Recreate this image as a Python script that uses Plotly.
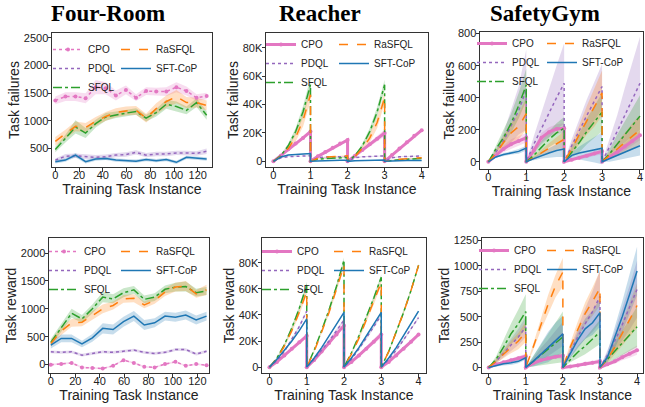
import plotly.graph_objects as go

# ---------------- data ----------------
series_names = ["CPO", "PDQL", "SFQL", "RaSFQL", "SFT-CoP"]
series_colors = ["#e377c2", "#9467bd", "#2ca02c", "#ff7f0e", "#1f77b4"]
series_dash = ["dot", "dot", "dashdot", "dash", "solid"]

panel_titles = ["Four-Room", "Reacher", "SafetyGym"]

# Four-Room: x = training task instance
fr_x = [0, 8.5, 17, 25.5, 34, 42.5, 51, 59.5, 68, 76.5, 85, 93.5, 102, 110.5, 119, 127.5]

fr_fail_cpo = [1370, 1440, 1440, 1410, 1610, 1590, 1460, 1560, 1420, 1540, 1530, 1530, 1610, 1540, 1420, 1450]
fr_fail_cpo_sd = [70, 80, 80, 90, 130, 110, 90, 80, 60, 70, 70, 80, 90, 80, 60, 60]
fr_fail_pdql = [290, 360, 370, 350, 340, 350, 380, 390, 430, 380, 400, 400, 420, 420, 410, 450]
fr_fail_pdql_sd = [30, 40, 40, 40, 40, 40, 40, 40, 40, 40, 40, 40, 40, 40, 40, 50]
fr_fail_sfql = [480, 680, 890, 780, 950, 1070, 1110, 1140, 1170, 1050, 1150, 1300, 1260, 1190, 1330, 1100]
fr_fail_sfql_sd = [50, 70, 120, 90, 70, 70, 60, 60, 60, 60, 70, 80, 90, 70, 80, 80]
fr_fail_rasfql = [630, 760, 900, 880, 990, 1080, 1150, 1180, 1190, 1050, 1220, 1350, 1440, 1330, 1330, 1280]
fr_fail_rasfql_sd = [80, 80, 90, 80, 80, 80, 80, 80, 80, 80, 100, 110, 120, 100, 90, 90]
fr_fail_sftcop = [260, 290, 380, 260, 310, 320, 290, 280, 270, 300, 280, 300, 250, 340, 330, 310]
fr_fail_sftcop_sd = [30, 30, 40, 30, 30, 30, 30, 30, 30, 30, 30, 30, 30, 30, 30, 30]

fr_rew_cpo = [0, 10, 30, -50, -60, -70, -20, 80, 30, -40, -50, 10, 50, -20, 10, -10]
fr_rew_cpo_sd = [15, 15, 15, 15, 15, 15, 15, 15, 15, 15, 15, 15, 15, 15, 15, 15]
fr_rew_pdql = [230, 220, 230, 170, 200, 230, 220, 240, 260, 220, 200, 220, 270, 270, 190, 240]
fr_rew_pdql_sd = [25, 25, 25, 25, 25, 25, 25, 25, 25, 25, 25, 25, 25, 25, 25, 25]
fr_rew_sfql = [400, 650, 920, 820, 1000, 1210, 1180, 1290, 1340, 1170, 1210, 1350, 1390, 1400, 1290, 1320]
fr_rew_sfql_sd = [60, 70, 80, 70, 80, 90, 80, 80, 70, 70, 70, 70, 80, 90, 70, 70]
fr_rew_rasfql = [380, 600, 750, 760, 880, 1000, 1060, 1180, 1190, 1070, 1150, 1300, 1390, 1410, 1270, 1340]
fr_rew_rasfql_sd = [60, 70, 70, 70, 80, 80, 70, 70, 70, 60, 60, 70, 80, 90, 70, 90]
fr_rew_sftcop = [350, 470, 470, 370, 480, 650, 630, 770, 870, 710, 750, 870, 850, 890, 800, 870]
fr_rew_sftcop_sd = [60, 70, 70, 60, 70, 90, 90, 90, 90, 90, 80, 80, 80, 80, 80, 80]

# Reacher / SafetyGym: 4 task segments, each sampled at these local positions
seg_t = [0.0, 0.2, 0.4, 0.6, 0.8, 1.0]
seg_starts = [0, 1, 2, 3]

# Reacher failures (thousands)
re_fail_cpo = [0, 4, 8.5, 12.5, 16.5, 21,  0, 3.5, 6.5, 9.5, 12.5, 15,  0, 4, 8, 12, 16, 20,  0, 4.5, 9, 13.5, 18, 22]
re_fail_cpo_sd = [0, .5, .8, 1, 1.2, 1.5,  0, .5, .6, .8, .8, 1,  0, .5, 1, 1.5, 2, 2.5,  0, .5, .5, .8, 1, 1]
re_fail_pdql = [0, 2.5, 3.3, 3.6, 3.8, 4.0,  0, 2.5, 3.0, 3.2, 3.3, 3.4,  0, 2.5, 3.2, 3.5, 3.6, 3.8,  0, 2.5, 3.2, 3.5, 3.7, 3.8]
re_fail_pdql_sd = [0, .3, .3, .3, .3, .3,  0, .3, .3, .3, .3, .3,  0, .3, .3, .3, .3, .3,  0, .3, .3, .3, .3, .3]
re_fail_sfql = [0, 4, 11, 21, 35, 54,  0, 1.5, 2.0, 2.3, 2.5, 2.7,  0, 4, 11, 21, 35, 54,  0, 0.8, 1.2, 1.5, 1.8, 2.0]
re_fail_sfql_sd = [0, .5, 1.5, 2.5, 4, 5,  0, .2, .3, .3, .3, .3,  0, .5, 1.5, 2.5, 3.5, 3.5,  0, .2, .2, .3, .3, .3]
re_fail_rasfql = [0, 3.5, 9, 17, 29, 47,  0, 2.2, 3.0, 3.4, 3.7, 3.9,  0, 3.5, 9, 16.5, 27.5, 45,  0, 1.0, 1.5, 1.9, 2.2, 2.5]
re_fail_rasfql_sd = [0, .5, 1.5, 3, 4.5, 5,  0, .3, .3, .3, .3, .3,  0, .5, 1.5, 3, 4, 4,  0, .2, .2, .3, .3, .3]
re_fail_sftcop = [0, 3.0, 4.5, 5.0, 5.2, 5.5,  0, 0.3, 0.5, 0.6, 0.7, 0.8,  0, 0.4, 0.6, 0.7, 0.8, 0.9,  0, 0.3, 0.4, 0.5, 0.5, 0.5]
re_fail_sftcop_sd = [0, .3, .3, .3, .3, .3,  0, .2, .2, .2, .2, .2,  0, .2, .2, .2, .2, .2,  0, .2, .2, .2, .2, .2]

# Reacher reward (thousands)
re_rew_cpo = [0, 4, 9, 14, 19, 24,  0, 5.5, 12, 18.5, 25, 32,  0, 4, 9, 14, 19.5, 25,  0, 4, 9, 14, 19.5, 25]
re_rew_cpo_sd = [0, .3, .5, .8, 1, 1.2,  0, .3, .5, .8, 1, 1.2,  0, .5, 1, 1.5, 2, 2.5,  0, .3, .5, .8, 1, 1.2]
re_rew_pdql = [0, 5, 12, 21, 31, 43,  0, 6, 13, 20, 28, 36,  0, 6, 14, 22, 31, 40,  0, 6, 13, 21, 29, 38]
re_rew_pdql_sd = [0, .5, .8, 1, 1, 1,  0, .5, .8, 1, 1, 1,  0, .5, .8, 1, 1, 1,  0, .5, .8, 1, 1, 1]
re_rew_sfql = [0, 7, 17, 30, 45, 63,  0, 13, 28, 44, 62, 82,  0, 11, 24, 38, 53, 69,  0, 12, 27, 42, 59, 78]
re_rew_sfql_sd = [0, .5, 1, 1.5, 2, 2.5,  0, .5, 1, 1.5, 2, 2,  0, .5, 1, 1.5, 2, 2,  0, .5, 1, 1, 1, 1]
re_rew_rasfql = [0, 6.5, 16, 28, 42, 58,  0, 12, 27, 42, 60, 78,  0, 10, 22, 36, 50, 65,  0, 12, 27, 42, 59, 78]
re_rew_rasfql_sd = [0, .5, 1, 1.5, 2, 2.5,  0, .5, 1, 1.5, 2, 2,  0, .5, 1, 1.5, 2, 2,  0, .5, 1, 1, 1, 1]
re_rew_sftcop = [0, 6, 13, 20, 28, 37,  0, 7, 15, 24, 33, 42,  0, 7, 15, 24, 33, 42,  0, 7, 15, 24, 33, 43]
re_rew_sftcop_sd = [0, .3, .5, .5, .5, .5,  0, .3, .5, .5, .5, .5,  0, .3, .5, .5, .5, .5,  0, .3, .5, .5, .5, .5]

# SafetyGym failures
sg_fail_cpo = [0, 40, 80, 110, 130, 150,  0, 70, 150, 185, 205, 210,  0, 12, 25, 38, 52, 65,  0, 30, 60, 95, 130, 165]
sg_fail_cpo_sd = [0, 10, 20, 30, 30, 30,  0, 20, 30, 30, 30, 30,  0, 5, 10, 15, 15, 20,  0, 10, 20, 25, 30, 30]
sg_fail_pdql = [0, 60, 130, 220, 320, 450,  0, 110, 210, 300, 400, 490,  0, 100, 200, 290, 380, 470,  0, 90, 190, 290, 390, 490]
sg_fail_pdql_sd = [0, 20, 50, 100, 150, 250,  0, 50, 100, 150, 200, 250,  0, 40, 70, 100, 120, 140,  0, 50, 100, 170, 230, 290]
sg_fail_sfql = [0, 80, 150, 240, 350, 480,  0, 40, 90, 140, 180, 210,  0, 60, 120, 190, 250, 310,  0, 50, 110, 170, 230, 285]
sg_fail_sfql_sd = [0, 20, 40, 60, 80, 100,  0, 20, 40, 50, 60, 70,  0, 30, 60, 80, 100, 120,  0, 30, 60, 80, 100, 130]
sg_fail_rasfql = [0, 50, 120, 180, 220, 300,  0, 25, 55, 85, 115, 140,  0, 80, 170, 260, 340, 430,  0, 40, 80, 120, 160, 200]
sg_fail_rasfql_sd = [0, 20, 40, 60, 80, 100,  0, 10, 20, 30, 40, 50,  0, 30, 60, 90, 120, 140,  0, 20, 40, 60, 80, 90]
sg_fail_sftcop = [0, 30, 45, 55, 65, 85,  0, 20, 40, 55, 70, 80,  0, 40, 55, 65, 75, 85,  0, 20, 40, 60, 80, 100]
sg_fail_sftcop_sd = [0, 5, 10, 10, 15, 15,  0, 10, 20, 30, 40, 50,  0, 20, 40, 60, 80, 100,  0, 20, 30, 40, 50, 60]

# SafetyGym reward
sg_rew_cpo = [0, 30, 50, 70, 90, 110,  0, 40, 70, 90, 105, 115,  0, 10, 20, 35, 45, 60,  0, 30, 60, 100, 135, 170]
sg_rew_cpo_sd = [0, 10, 15, 20, 20, 25,  0, 10, 15, 20, 20, 25,  0, 10, 15, 20, 20, 25,  0, 15, 25, 30, 40, 45]
sg_rew_pdql = [0, 60, 140, 220, 300, 400,  0, 60, 130, 190, 260, 330,  0, 150, 300, 430, 550, 700,  0, 120, 260, 420, 590, 770]
sg_rew_pdql_sd = [0, 20, 40, 60, 80, 100,  0, 30, 60, 80, 100, 120,  0, 50, 100, 150, 200, 260,  0, 50, 100, 160, 220, 280]
sg_rew_sfql = [0, 80, 200, 330, 430, 550,  0, 60, 120, 180, 240, 300,  0, 80, 150, 210, 280, 350,  0, 80, 160, 240, 320, 400]
sg_rew_sfql_sd = [0, 30, 70, 100, 140, 170,  0, 50, 100, 150, 200, 250,  0, 30, 60, 80, 100, 120,  0, 40, 80, 120, 160, 200]
sg_rew_rasfql = [0, 60, 130, 200, 260, 350,  0, 200, 420, 620, 800, 940,  0, 200, 370, 530, 650, 780,  0, 80, 200, 330, 470, 610]
sg_rew_rasfql_sd = [0, 20, 40, 60, 80, 100,  0, 30, 60, 90, 110, 140,  0, 40, 80, 110, 140, 170,  0, 40, 80, 120, 170, 220]
sg_rew_sftcop = [0, 20, 35, 45, 60, 95,  0, 60, 130, 200, 270, 330,  0, 140, 270, 380, 440, 540,  0, 100, 290, 500, 720, 950]
sg_rew_sftcop_sd = [0, 10, 15, 20, 20, 20,  0, 50, 100, 150, 170, 180,  0, 40, 80, 100, 120, 140,  0, 50, 100, 150, 200, 240]

# tick labels
fr_fail_ticks = [500, 1000, 1500, 2000, 2500]
fr_rew_ticks = [0, 500, 1000, 1500, 2000]
fr_x_ticks = [0, 20, 40, 60, 80, 100, 120]
re_y_ticks = [0, 20, 40, 60, 80]
re_y_labels = ["0", "20K", "40K", "60K", "80K"]
seg_x_ticks = [0, 1, 2, 3, 4]
sg_fail_ticks = [0, 200, 400, 600, 800]
sg_rew_ticks = [0, 250, 500, 750, 1000, 1250]

# ---------------- figure ----------------
W, H = 645, 407
fig = go.Figure()


def hex_rgba(h, a):
    h = h.lstrip("#")
    return "rgba(%d,%d,%d,%.2f)" % (int(h[0:2], 16), int(h[2:4], 16), int(h[4:6], 16), a)


def seg_x():
    xs = []
    for s in seg_starts:
        xs += [s + t for t in seg_t]
    return xs


def add_panel(idx, xs, means, sds, sawtooth):
    ax = "" if idx == 1 else str(idx)
    leg1 = "legend" if idx == 1 else "legend%d" % (2 * idx - 1)
    leg2 = "legend%d" % (2 * idx)
    # bands first
    for k, (m, s) in enumerate(zip(means, sds)):
        up = [a + b for a, b in zip(m, s)]
        lo = [a - b for a, b in zip(m, s)]
        fig.add_trace(go.Scatter(
            x=xs + xs[::-1], y=up + lo[::-1], xaxis="x" + ax, yaxis="y" + ax,
            fill="toself", fillcolor=hex_rgba(series_colors[k], 0.25),
            line=dict(width=0), mode="lines", showlegend=False, hoverinfo="skip"))
    for k, m in enumerate(means):
        col = series_colors[k]
        kw = dict(x=xs, y=m, xaxis="x" + ax, yaxis="y" + ax, name=series_names[k],
                  legend=leg1 if k < 3 else leg2, showlegend=True)
        if k == 0:
            if sawtooth:
                fig.add_trace(go.Scatter(mode="lines+markers", line=dict(color=col, width=3),
                                         marker=dict(size=4, color=col), **kw))
            else:
                fig.add_trace(go.Scatter(mode="lines+markers", line=dict(color=col, width=1.5, dash="dot"),
                                         marker=dict(size=4, color=col), **kw))
        else:
            fig.add_trace(go.Scatter(mode="lines", line=dict(color=col, width=1.5, dash=series_dash[k]), **kw))


sx = seg_x()
add_panel(1, fr_x, [fr_fail_cpo, fr_fail_pdql, fr_fail_sfql, fr_fail_rasfql, fr_fail_sftcop],
          [fr_fail_cpo_sd, fr_fail_pdql_sd, fr_fail_sfql_sd, fr_fail_rasfql_sd, fr_fail_sftcop_sd], False)
add_panel(2, sx, [re_fail_cpo, re_fail_pdql, re_fail_sfql, re_fail_rasfql, re_fail_sftcop],
          [re_fail_cpo_sd, re_fail_pdql_sd, re_fail_sfql_sd, re_fail_rasfql_sd, re_fail_sftcop_sd], True)
add_panel(3, sx, [sg_fail_cpo, sg_fail_pdql, sg_fail_sfql, sg_fail_rasfql, sg_fail_sftcop],
          [sg_fail_cpo_sd, sg_fail_pdql_sd, sg_fail_sfql_sd, sg_fail_rasfql_sd, sg_fail_sftcop_sd], True)
add_panel(4, fr_x, [fr_rew_cpo, fr_rew_pdql, fr_rew_sfql, fr_rew_rasfql, fr_rew_sftcop],
          [fr_rew_cpo_sd, fr_rew_pdql_sd, fr_rew_sfql_sd, fr_rew_rasfql_sd, fr_rew_sftcop_sd], False)
add_panel(5, sx, [re_rew_cpo, re_rew_pdql, re_rew_sfql, re_rew_rasfql, re_rew_sftcop],
          [re_rew_cpo_sd, re_rew_pdql_sd, re_rew_sfql_sd, re_rew_rasfql_sd, re_rew_sftcop_sd], True)
add_panel(6, sx, [sg_rew_cpo, sg_rew_pdql, sg_rew_sfql, sg_rew_rasfql, sg_rew_sftcop],
          [sg_rew_cpo_sd, sg_rew_pdql_sd, sg_rew_sfql_sd, sg_rew_rasfql_sd, sg_rew_sftcop_sd], True)

FONT = "Liberation Sans, Arial, sans-serif"
TXT = "#222222"

# pixel boxes: (left, right, top, bottom)
boxes = [(52, 212, 33, 167), (266, 428, 33, 167), (480, 643, 32, 169),
         (49, 209, 238, 373), (262, 426, 238, 373), (482, 643, 238, 373)]
xranges = [[-2.8, 132], [-0.2, 4.17], [-0.22, 4.08], [-1.5, 129.5], [-0.2, 4.2], [-0.18, 4.16]]
yranges = [[165, 2590], [-4, 90.5], [-45, 810], [-150, 2270], [-4.5, 99], [-55, 1275]]
xticks = [fr_x_ticks, seg_x_ticks, seg_x_ticks, fr_x_ticks, seg_x_ticks, seg_x_ticks]
yticks = [(fr_fail_ticks, None), (re_y_ticks, re_y_labels), (sg_fail_ticks, None),
          (fr_rew_ticks, None), (re_y_ticks, re_y_labels), (sg_rew_ticks, None)]
ytitles = ["Task failures"] * 3 + ["Task reward"] * 3

axis_common = dict(showline=True, mirror=True, linecolor="#333333", linewidth=1,
                   ticks="outside", ticklen=3.5, tickwidth=1, tickcolor="#333333",
                   showgrid=False, zeroline=False, automargin=False,
                   tickfont=dict(family=FONT, size=11, color=TXT))
lay = {}
for i, (l, r, t, b) in enumerate(boxes):
    n = "" if i == 0 else str(i + 1)
    tv, tt = yticks[i]
    lay["xaxis" + n] = dict(domain=[l / W, r / W], anchor="y" + n, range=xranges[i],
                            tickmode="array", tickvals=xticks[i], ticklabelstandoff=-6,
                            title=dict(text="Training Task Instance", standoff=0,
                                       font=dict(family=FONT, size=14, color=TXT)),
                            **axis_common)
    yd = dict(domain=[1 - b / H, 1 - t / H], anchor="x" + n, range=yranges[i],
              tickmode="array", tickvals=tv, ticklabelstandoff=-3,
              title=dict(text=ytitles[i], standoff=0, font=dict(family=FONT, size=14, color=TXT)),
              **axis_common)
    if tt is not None:
        yd["ticktext"] = tt
    lay["yaxis" + n] = yd

# legends: text x positions (px) for the two columns, first row center y (px)
leg_pos = [(89, 157, 46), (302, 375, 41), (513, 583, 40),
           (85, 157, 248), (298, 370, 248), (515, 583, 247)]
for i, (c1, c2, ry) in enumerate(leg_pos):
    for j, cx in enumerate((c1, c2)):
        num = 2 * i + 1 + j
        name = "legend" if num == 1 else "legend%d" % num
        lay[name] = dict(x=(cx - 41) / W, y=1 - (ry - 11) / H, xanchor="left", yanchor="top",
                         bgcolor="rgba(0,0,0,0)", borderwidth=0, tracegroupgap=0,
                         font=dict(family=FONT, size=10, color=TXT), itemwidth=30)

annotations = []
for txt, cx in zip(panel_titles, [107.5, 320, 545]):
    annotations.append(dict(text="<b>%s</b>" % txt, x=cx / W, y=1 - 13.5 / H, xref="paper", yref="paper",
                            xanchor="center", yanchor="middle", showarrow=False,
                            font=dict(family="Liberation Serif, Times New Roman, serif", size=23, color="#000")))

fig.update_layout(width=W, height=H, margin=dict(l=0, r=0, t=0, b=0),
                  paper_bgcolor="white", plot_bgcolor="white", annotations=annotations,
                  showlegend=True, **lay)

fig.write_html("out.html", config={"displayModeBar": False},
               post_script="document.body.style.margin='0px';")
